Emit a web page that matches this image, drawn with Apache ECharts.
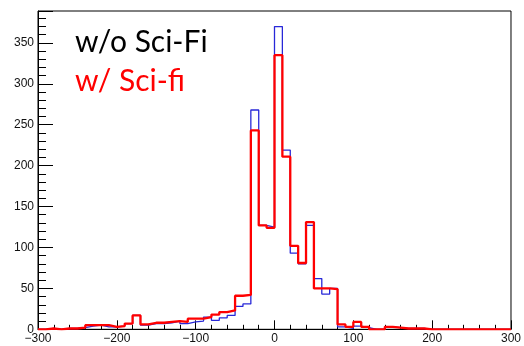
<!DOCTYPE html>
<html>
<head>
<meta charset="utf-8">
<script src="https://cdn.jsdelivr.net/npm/echarts@6/dist/echarts.min.js"></script>
<style>
html,body{margin:0;padding:0;background:#fff;}
#chart{width:524px;height:346px;}
</style>
</head>
<body>
<div id="chart"></div>
<script>
// Bin left edges (width 10) from -300 to 290
const binLeftEdges = [
  -300,-290,-280,-270,-260,-250,-240,-230,-220,-210,
  -200,-190,-180,-170,-160,-150,-140,-130,-120,-110,
  -100,-90,-80,-70,-60,-50,-40,-30,-20,-10,
  0,10,20,30,40,50,60,70,80,90,
  100,110,120,130,140,150,160,170,180,190,
  200,210,220,230,240,250,260,270,280,290
];
const xUpperEdge = 300;

// w/o Sci-Fi (blue)
const countsWithoutSciFi = [
  0,1,0,1,1,2,4,5,3,3,
  4,7,17,5,7,7,8,10,7,9,
  10,15,11,14,17,28,31,268,127,125,
  370,219,93,80,127,62,43,50,3,1,
  4,2,0,0,3,2,1,1,1,0,
  0,0,0,0,0,0,0,0,0,0
];
// w/ Sci-fi (red)
const countsWithSciFi = [
  0,1,0,1,1,2,5,5,5,3,
  4,7,17,6,8,8,9,10,9,13,
  13,15,18,21,23,41,42,243,127,124,
  335,211,102,81,131,50,50,49,6,3,
  9,3,0,0,3,2,1,1,1,0,
  0,0,0,0,0,0,0,0,0,0
];

const xTickLabels = ['\u2212300','\u2212200','\u2212100','0','100','200','300'];
const legendTexts = ['w/o Sci-Fi', 'w/ Sci-fi'];

function stepData(counts) {
  const d = binLeftEdges.map((x, i) => [x, counts[i]]);
  d.push([xUpperEdge, counts[counts.length - 1]]);
  return d;
}

const chart = echarts.init(document.getElementById('chart'), null, {renderer: 'canvas'});
const labelFont = {fontFamily: 'Liberation Sans, Arial, sans-serif', fontSize: 12, color: '#111'};

chart.setOption({
  animation: false,
  backgroundColor: '#fff',
  grid: {left: 38, right: 2.3, top: 11, bottom: 16.7, show: true, borderColor: '#000', borderWidth: 1, backgroundColor: 'transparent'},
  xAxis: {
    type: 'value', min: -300, max: 300, interval: 100,
    axisLine: {show: true, onZero: false, lineStyle: {color: '#000', width: 1}},
    axisTick: {show: true, inside: true, length: 9, lineStyle: {color: '#000'}},
    minorTick: {show: true, splitNumber: 5, length: 4.5, lineStyle: {color: '#000'}},
    splitLine: {show: false},
    axisLabel: Object.assign({margin: 3, hideOverlap: false, alignMinLabel: 'center', alignMaxLabel: 'center', formatter: function (v) {
      const idx = Math.round((v + 300) / 100);
      return xTickLabels[idx] !== undefined ? xTickLabels[idx] : '';
    }}, labelFont)
  },
  yAxis: {
    type: 'value', min: 0, max: 389, interval: 50,
    axisLine: {show: true, onZero: false, lineStyle: {color: '#000', width: 1}},
    axisTick: {show: true, inside: true, length: 15, lineStyle: {color: '#000'}},
    minorTick: {show: true, splitNumber: 5, length: 8, lineStyle: {color: '#000'}},
    splitLine: {show: false},
    axisLabel: Object.assign({margin: 4, showMaxLabel: false}, labelFont)
  },
  series: [
    {
      name: legendTexts[0], type: 'line', step: 'end', showSymbol: false, symbol: 'none',
      data: stepData(countsWithoutSciFi),
      lineStyle: {color: '#2828d8', width: 1.3}, z: 2
    },
    {
      name: legendTexts[1], type: 'line', step: 'end', showSymbol: false, symbol: 'none',
      data: stepData(countsWithSciFi),
      lineStyle: {color: '#ff0000', width: 2.3}, z: 3
    }
  ],
  graphic: [
    {type: 'text', left: 75, top: 27, z: 10,
     style: {text: legendTexts[0], fill: '#000', font: '30px Lato, "Open Sans", sans-serif'}},
    {type: 'text', left: 75, top: 66, z: 10,
     style: {text: legendTexts[1], fill: '#ff0000', font: '30px Lato, "Open Sans", sans-serif'}}
  ]
});
</script>
</body>
</html>
